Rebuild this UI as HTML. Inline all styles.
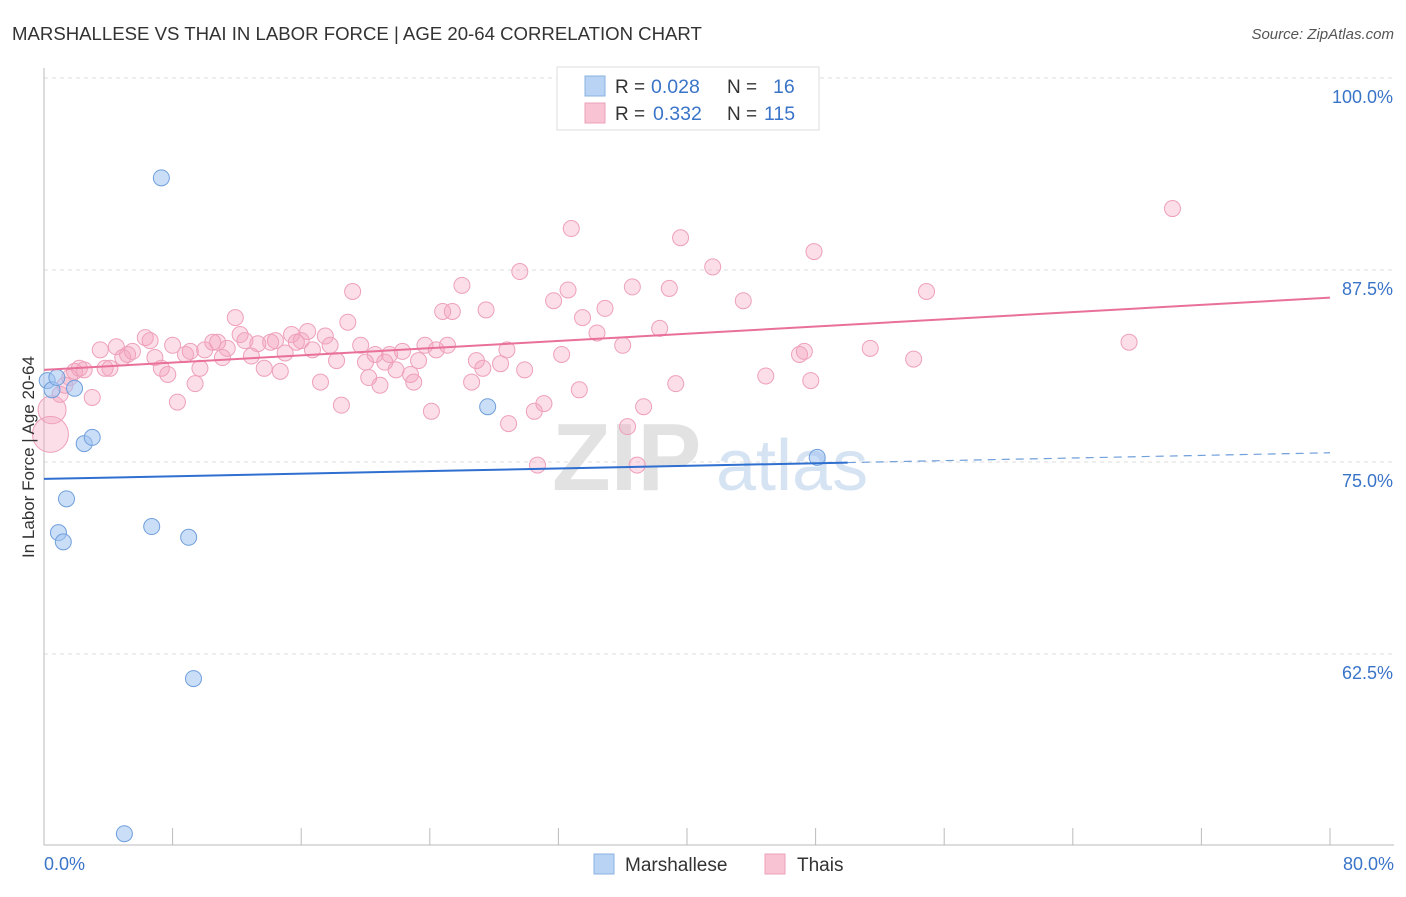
<!DOCTYPE html>
<html><head><meta charset="utf-8">
<style>
body{margin:0;background:#fff;font-family:"Liberation Sans",sans-serif;}
svg text{font-family:"Liberation Sans",sans-serif;}
</style></head>
<body>
<svg id="chart" width="1406" height="892" viewBox="0 0 1406 892" xmlns="http://www.w3.org/2000/svg">
<text x="12" y="40" font-size="18.6" fill="#333">MARSHALLESE VS THAI IN LABOR FORCE | AGE 20-64 CORRELATION CHART</text>
<text x="1394" y="39" font-size="15" fill="#555" font-style="italic" text-anchor="end">Source: ZipAtlas.com</text>
<g>
<text x="552" y="490" font-size="96" fill="#e2e2e2" font-family="Liberation Serif" font-weight="bold">ZIP</text>
<text x="716" y="490" font-size="72" fill="#d6e3f3">atlas</text>
</g>
<g id="grid"></g>
<g id="axes"></g>
<g id="marks"></g>
<text transform="translate(34,457) rotate(-90)" font-size="17" fill="#333" text-anchor="middle">In Labor Force | Age 20-64</text>
<g>
<rect x="557" y="67" width="262" height="63" fill="#fff" stroke="#ddd"/>
<rect x="585" y="76" width="20" height="20" fill="#b8d3f3" stroke="#8ab0e0"/>
<rect x="585" y="103" width="20" height="20" fill="#f8c4d4" stroke="#eca0b8"/>
<text x="615" y="93" font-size="19" fill="#333">R = </text><text x="651" y="93" font-size="19.5" fill="#3a74c8">0.028</text>
<text x="727" y="93" font-size="19" fill="#333">N = </text><text x="773" y="93" font-size="19.5" fill="#3a74c8">16</text>
<text x="615" y="120" font-size="19" fill="#333">R = </text><text x="653" y="120" font-size="19.5" fill="#3a74c8">0.332</text>
<text x="727" y="120" font-size="19" fill="#333">N = </text><text x="764" y="120" font-size="19.5" fill="#3a74c8">115</text>
</g>
<g>
<rect x="594" y="854" width="20" height="20" fill="#b8d3f3" stroke="#8ab0e0"/>
<text x="625" y="871" font-size="19" fill="#333">Marshallese</text>
<rect x="765" y="854" width="20" height="20" fill="#f8c4d4" stroke="#eca0b8"/>
<text x="797" y="871" font-size="19" fill="#333">Thais</text>
</g>
</svg>
<script>
const yTicks=[62.5,75.0,87.5,100.0];
const xTickLabels=["0.0%","80.0%"];
const blueX=[0.2,0.5,0.8,1.9,2.5,3.0,1.4,0.9,1.2,6.7,9.0,7.3,9.3,5.0,27.6,48.1];
const blueY=[80.3,79.7,80.5,79.8,76.2,76.6,72.6,70.4,69.8,70.8,70.1,93.5,60.9,50.8,78.6,75.3];
const pinkX=[0.4,0.5,1.0,1.3,1.6,1.9,2.2,2.5,3.0,3.5,3.8,4.1,4.5,4.9,5.2,5.5,6.3,6.6,6.9,7.3,7.7,8.0,8.3,8.8,9.1,9.4,9.7,10.0,10.5,10.8,11.1,11.4,11.9,12.2,12.5,12.9,13.3,13.7,14.1,14.4,14.7,15.0,15.4,15.7,16.0,16.4,16.7,17.2,17.5,17.8,18.2,18.5,18.9,19.2,19.7,20.0,20.2,20.6,20.9,21.2,21.5,21.9,22.3,22.8,23.0,23.3,23.7,24.1,24.4,24.8,25.1,25.4,26.0,26.6,26.9,27.3,27.5,28.4,28.8,28.9,29.6,29.9,30.5,30.7,31.1,31.7,32.2,32.6,32.8,33.3,33.5,34.4,34.9,36.0,36.3,36.6,36.9,37.3,38.3,38.9,39.3,39.6,41.6,43.5,44.9,47.0,47.3,47.7,47.9,51.4,54.1,54.9,67.5,70.2];
const pinkY=[76.8,78.4,79.4,80.0,80.5,80.9,81.1,81.0,79.2,82.3,81.1,81.1,82.5,81.8,82.0,82.2,83.1,82.9,81.8,81.1,80.7,82.6,78.9,82.0,82.2,80.1,81.1,82.3,82.8,82.8,81.8,82.4,84.4,83.3,82.9,81.9,82.7,81.1,82.8,82.9,80.9,82.1,83.3,82.8,82.9,83.5,82.3,80.2,83.2,82.6,81.6,78.7,84.1,86.1,82.6,81.5,80.5,82.0,80.0,81.5,82.0,81.0,82.2,80.7,80.2,81.6,82.6,78.3,82.3,84.8,82.6,84.8,86.5,80.2,81.6,81.1,84.9,81.4,82.3,77.5,87.4,81.0,78.3,74.8,78.8,85.5,82.0,86.2,90.2,79.7,84.4,83.4,85.0,82.6,77.3,86.4,74.8,78.6,83.7,86.3,80.1,89.6,87.7,85.5,80.6,82.0,82.2,80.3,88.7,82.4,81.7,86.1,82.8,91.5];
const blueTrend=[73.9,75.6];
const pinkTrend=[81.0,85.7];
const NS="http://www.w3.org/2000/svg";
const X0=44,X1=1330,Y75=462,PX=192/12.5;
function sx(v){return X0+(X1-X0)*v/80;}
function sy(v){return Y75-(v-75)*PX;}
function mk(t,a,p){const e=document.createElementNS(NS,t);for(const k in a)e.setAttribute(k,a[k]);p.appendChild(e);return e;}
const grid=document.getElementById('grid'),axes=document.getElementById('axes'),marks=document.getElementById('marks');
yTicks.forEach(v=>{
 const l=mk('line',{x1:X0,x2:1394,y1:sy(v),y2:sy(v),stroke:'#ddd','stroke-dasharray':'4,4'},grid);
 
 
 const t=mk('text',{x:1393,y:sy(v)+25,'font-size':18,fill:'#3a74c8','text-anchor':'end'},grid);
 t.textContent=v.toFixed(1)+'%';
 
 
});
const ax=mk('line',{x1:X0,x2:X0,y1:68,y2:845,stroke:'#bbb'},axes);


const bx=mk('line',{x1:X0,x2:1394,y1:845,y2:845,stroke:'#bbb'},axes);


for(let i=0;i<=10;i++){
 const tk=mk('line',{x1:sx(i*8),x2:sx(i*8),y1:828,y2:845,stroke:'#bbb'},axes);
 
 
}
xTickLabels.forEach((s,i)=>{
 const t=mk('text',{x:i?1394:44,y:870,'font-size':18,fill:'#3a74c8','text-anchor':i?'end':'start'},axes);
 t.textContent=s;
 
 
});
pinkX.forEach((x,i)=>{
 const r=i===0?18:(i===1?14:8);
 const c=mk('circle',{cx:sx(x),cy:sy(pinkY[i]),r:r,fill:'rgba(244,160,188,0.35)',stroke:'#eea0ba','stroke-width':1},marks);
 
 
});
blueX.forEach((x,i)=>{
 const c=mk('circle',{cx:sx(x),cy:sy(blueY[i]),r:8,fill:'rgba(160,195,240,0.55)',stroke:'#6f9fdc','stroke-width':1},marks);
 
 
});
const pl=mk('line',{x1:sx(0),y1:sy(pinkTrend[0]),x2:sx(80),y2:sy(pinkTrend[1]),stroke:'#e8709a','stroke-width':2},marks);


const fb=50;
const bmid=blueTrend[0]+(blueTrend[1]-blueTrend[0])*fb/80;
const bl=mk('line',{x1:sx(0),y1:sy(blueTrend[0]),x2:sx(fb),y2:sy(bmid),stroke:'#2f6fcf','stroke-width':2},marks);


const bd=mk('line',{x1:sx(fb),y1:sy(bmid),x2:sx(80),y2:sy(blueTrend[1]),stroke:'#6f9fdc','stroke-width':1.2,'stroke-dasharray':'8,6'},marks);


</script>
</body></html>
